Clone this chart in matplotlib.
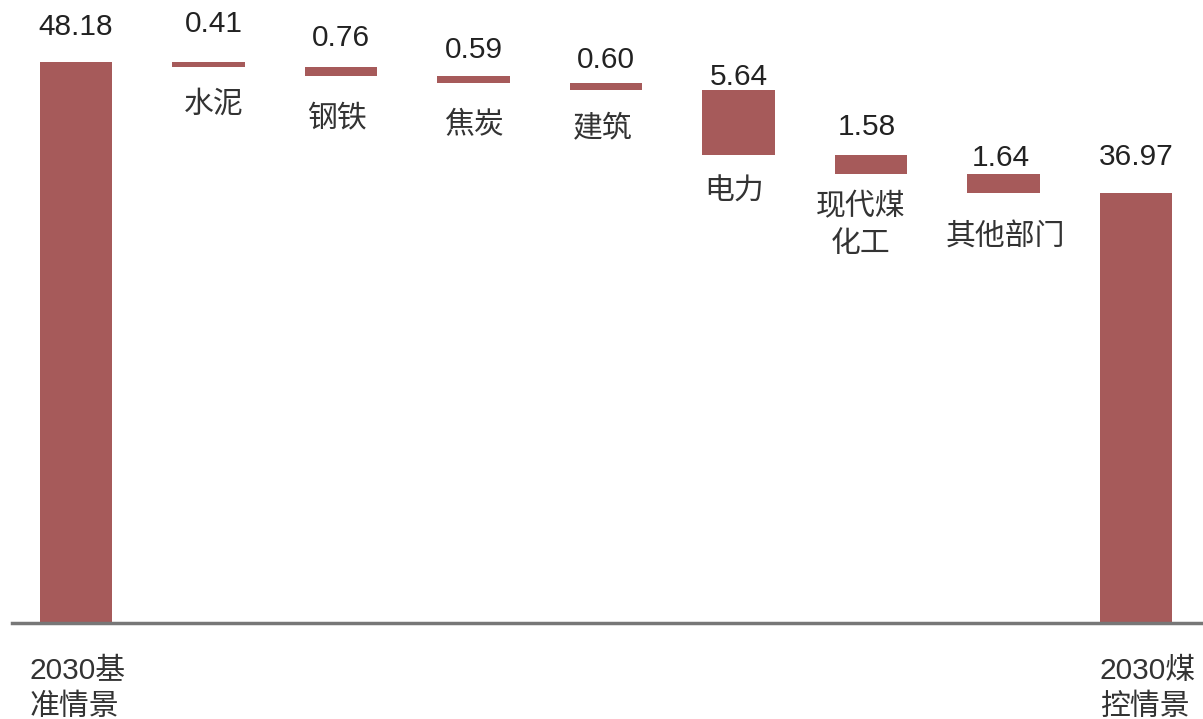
import numpy as np
import matplotlib.pyplot as plt

plt.rcParams['font.family'] = ['Liberation Sans', 'Noto Sans CJK SC', 'DejaVu Sans']

# waterfall data: 2030 baseline -> sector reductions -> coal-control scenario
start_label = '2030基\n准情景'
end_label = '2030煤\n控情景'
start_value = 48.18
end_value = 36.97
sectors = ['水泥', '钢铁', '焦炭', '建筑', '电力', '现代煤\n化工', '其他部门']
reductions = [0.41, 0.76, 0.59, 0.60, 5.64, 1.58, 1.64]

bar_color = '#a65a5a'
text_color = '#222222'
fs = 21.5

# pixel offsets for the number labels above each bar top
value_offsets = [35, 38, 29, 26, 23, 13, 28, 16, 36]
value_dx = [0, 5, 0, 0, 0, 0, -4, -3, 0]
# pixel offsets for sector names below each step
name_offsets = [38, 43, 43, 40, 36, 52, 45]
name_dx = [5, -4, 0, -3, -4, -10, 2]

fig = plt.figure(figsize=(12.03, 7.19), dpi=100)
ax = fig.add_axes([0, 0, 1, 1])
ax.set_xlim(-0.574, 8.506)
ax.set_ylim(-8.25, 53.52)
ax.axis('off')

width = 0.55
n = len(sectors)
x = np.arange(n + 2)

# totals
ax.bar([x[0], x[-1]], [start_value, end_value], width=width, color=bar_color)

# floating steps
tops = start_value - np.concatenate([[0], np.cumsum(reductions)[:-1]])
bottoms = tops - np.array(reductions)
ax.bar(x[1:-1], reductions, bottom=bottoms, width=width, color=bar_color)

ax.axhline(0, xmin=0.01, xmax=1, color='#777777', lw=2.5, zorder=3)

bar_tops = [start_value] + list(tops) + [end_value]
labels = [start_value] + reductions + [end_value]
for i in range(n + 2):
    ax.annotate('%.2f' % labels[i], (x[i], bar_tops[i]),
                xytext=(value_dx[i], value_offsets[i]), textcoords='offset pixels',
                ha='center', va='center', fontsize=fs, color=text_color)

for i in range(n):
    ax.annotate(sectors[i], (x[i + 1], bottoms[i]),
                xytext=(name_dx[i], -name_offsets[i]), textcoords='offset pixels',
                ha='center', va='center', fontsize=fs, color='#333333',
                linespacing=1.4)

ax.annotate(start_label, (x[0] - width / 2, 0), xytext=(-10, -66),
            textcoords='offset pixels', ha='left', va='center',
            fontsize=fs, color='#333333', linespacing=1.35)
ax.annotate(end_label, (x[-1] - width / 2, 0), xytext=(0, -66),
            textcoords='offset pixels', ha='left', va='center',
            fontsize=fs, color='#333333', linespacing=1.35)

fig.savefig('out.png', dpi=100)
